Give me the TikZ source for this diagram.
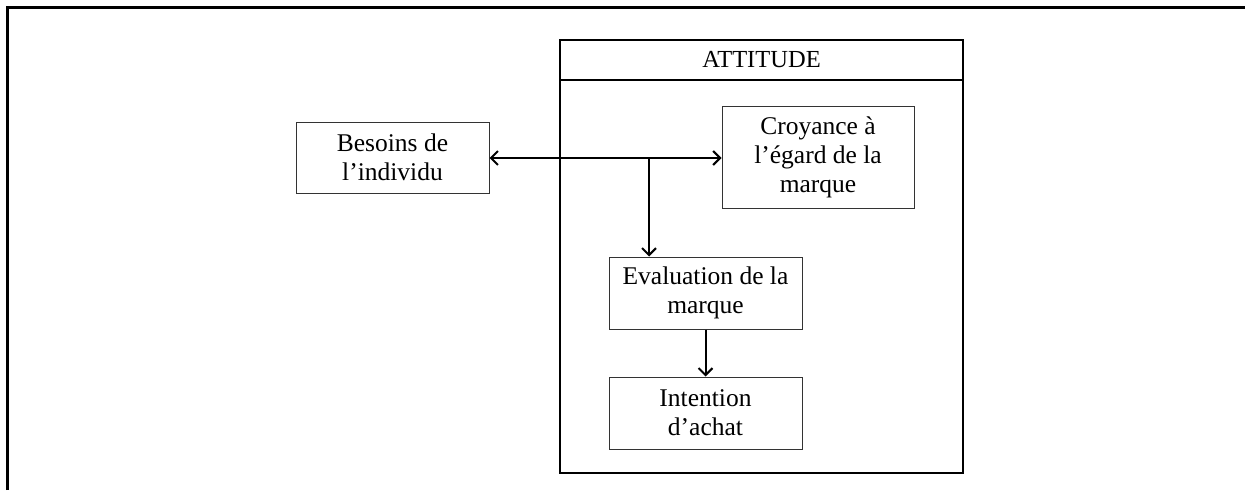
\documentclass[tikz,border=0pt]{standalone}
\usepackage{fontspec}
\setmainfont{Liberation Serif}
\usetikzlibrary{arrows.meta}
\tikzset{
  box/.style={draw=black!80, line width=1pt, fill=white, inner sep=0pt, align=center,
    font=\fontsize{25.5}{29}\selectfont},
  frame/.style={draw, line width=2.5pt, inner sep=0pt},
  conn/.style={line width=2pt, -{Straight Barb[length=7pt,width=14pt,line width=2pt]}},
  connboth/.style={line width=2pt, {Straight Barb[length=7pt,width=14pt,line width=2pt]}-{Straight Barb[length=7pt,width=14pt,line width=2pt]}}
}
\begin{document}
\begin{tikzpicture}[x=1pt,y=-1pt]
\useasboundingbox (0,0) rectangle (1245,490);
% outer frame (top and left edges)
\coordinate (fa) at (7.5,490);
\coordinate (fb) at (7.5,7.5);
\coordinate (fc) at (1245,7.5);
\draw[line width=2.5pt] (fa) -- (fb) -- (fc);
% ATTITUDE frame
\node[frame, minimum width=403pt, minimum height=433pt] (attitude) at (761.5,256.5) {};
\node[frame, minimum width=403pt, minimum height=40pt, font=\fontsize{24.5}{28}\selectfont] (head) at (761.5,60) {ATTITUDE};
% boxes
\node[box, minimum width=193pt, minimum height=71pt] (besoins) at (392.5,157.5) {Besoins de\\l’individu};
\node[box, minimum width=192pt, minimum height=102pt] (croyance) at (818,157) {Croyance à\\l’égard de la\\marque};
\node[box, minimum width=193pt, minimum height=72pt] (evaluation) at (705.5,293) {Evaluation de la\\marque};
\node[box, minimum width=193pt, minimum height=72pt] (intention) at (705.5,413) {Intention\\d’achat};
% connectors
\coordinate (branch) at (649,158);
\draw[connboth] (besoins.east |- branch) -- (croyance.west |- branch);
\draw[conn] (branch) -- (branch |- evaluation.north);
\draw[conn] (evaluation.south) -- (intention.north);
\end{tikzpicture}
\end{document}
